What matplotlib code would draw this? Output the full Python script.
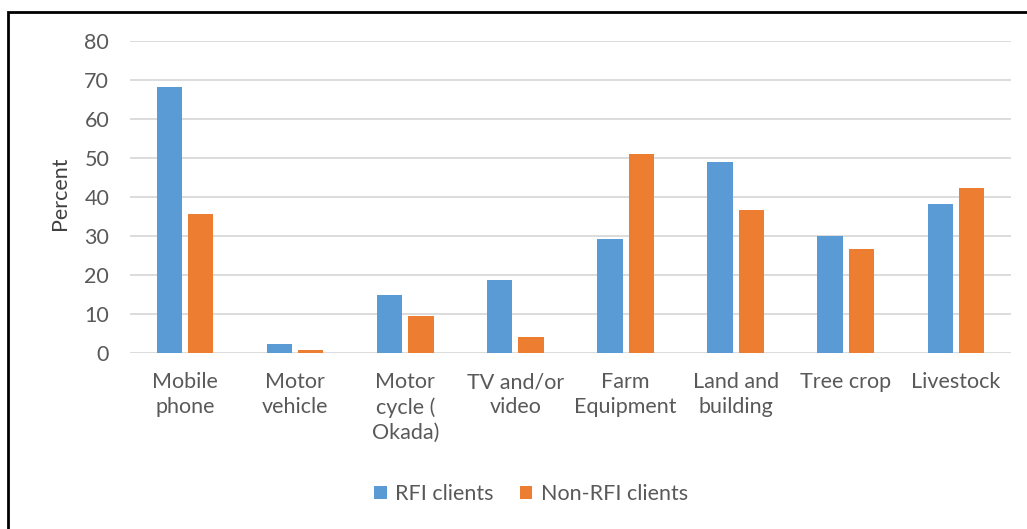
import matplotlib.pyplot as plt
import numpy as np
from matplotlib.patches import Rectangle

# categories and values
categories = ["Mobile\nphone", "Motor\nvehicle", "Motor\ncycle (\nOkada)", "TV and/or\nvideo",
              "Farm\nEquipment", "Land and\nbuilding", "Tree crop", "Livestock"]
rfi = [68.3, 2.3, 14.9, 18.6, 29.3, 49.1, 30.0, 38.3]
non_rfi = [35.6, 0.7, 9.5, 4.0, 51.1, 36.6, 26.7, 42.3]

plt.rcParams['font.family'] = ['Lato', 'DejaVu Sans']

fig = plt.figure(figsize=(10.27, 5.29), dpi=100)
ax = fig.add_axes([0.1266, 0.3327, 0.8578, 0.5898])

x = np.arange(len(categories))
w = 0.23
off = 0.142
ax.bar(x - off, rfi, w, color="#5B9BD5", label="RFI clients", zorder=3)
ax.bar(x + off, non_rfi, w, color="#ED7D31", label="Non-RFI clients", zorder=3)

ax.set_xlim(-0.5, len(categories) - 0.5)
ax.set_ylim(0, 80)
ax.set_yticks(range(0, 81, 10))
ax.set_xticks(x)
ax.set_xticklabels(categories, fontsize=15.5, color="#595959", linespacing=1.3, va="top")
ax.tick_params(axis="y", labelsize=15.5, labelcolor="#595959", length=0, pad=15)
ax.tick_params(axis="x", length=0, pad=14)

ax.grid(axis="y", color="#d9d9d9", linewidth=1.3, zorder=0)
for s in ax.spines.values():
    s.set_visible(False)

ax.set_ylabel("Percent", fontsize=15.5, color="#404040")
ax.yaxis.set_label_coords(-0.068, 0.513)

fig.legend(loc="center", bbox_to_anchor=(0.517, 0.066), ncol=2, frameon=False,
           fontsize=15.5, handlelength=0.6, handleheight=0.6, handletextpad=0.4,
           columnspacing=1.2, labelcolor="#595959")

# black frame around the chart (right and bottom edges cut off)
fig.patches.append(Rectangle((8 / 1027, -0.05), 1.1, 1 - 12 / 529 + 0.05,
                             transform=fig.transFigure, fill=False,
                             edgecolor="black", linewidth=2))

fig.savefig("out.png", dpi=100)
